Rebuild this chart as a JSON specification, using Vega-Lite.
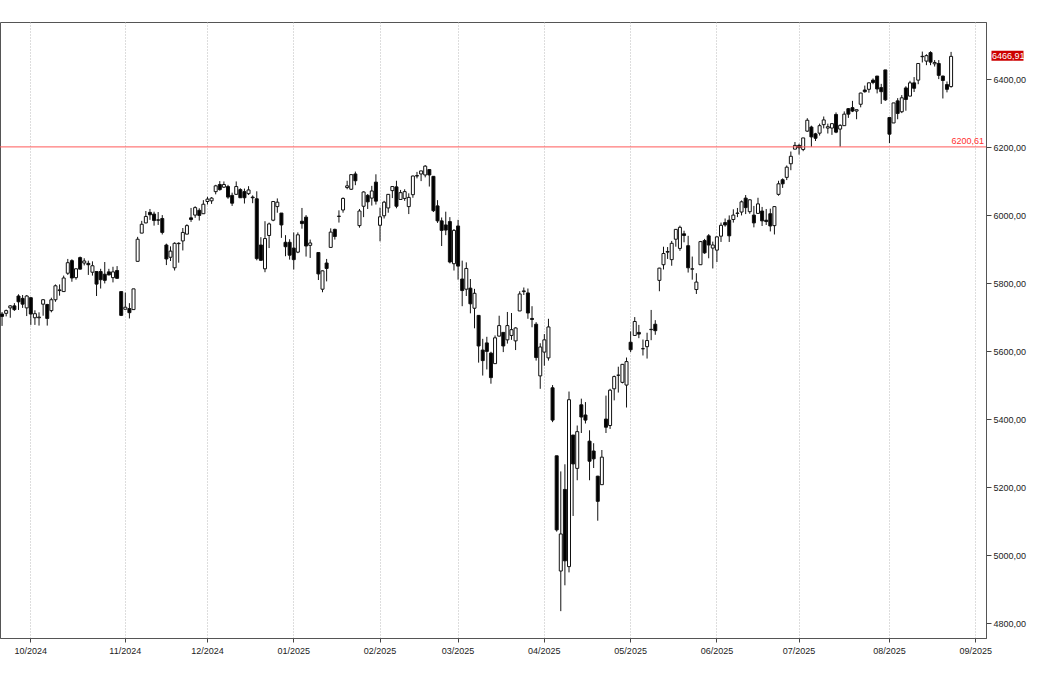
{
  "$schema": "https://vega.github.io/schema/vega-lite/v6.json",
  "width": 986,
  "height": 616,
  "autosize": "none",
  "padding": {"left": 0, "top": 22, "right": 61, "bottom": 47},
  "background": "#ffffff",
  "config": {
    "view": {"stroke": "#555555", "strokeWidth": 1},
    "font": "Liberation Sans"
  },
  "datasets": {
    "p": [
      {"d":"2024-09-20","o":5709,"h":5715,"l":5674,"c":5702},
      {"d":"2024-09-23","o":5711,"h":5722,"l":5702,"c":5719},
      {"d":"2024-09-24","o":5727,"h":5735,"l":5698,"c":5733},
      {"d":"2024-09-25","o":5733,"h":5741,"l":5718,"c":5722},
      {"d":"2024-09-26","o":5762,"h":5767,"l":5721,"c":5745},
      {"d":"2024-09-27","o":5755,"h":5765,"l":5727,"c":5738},
      {"d":"2024-09-30","o":5727,"h":5765,"l":5703,"c":5762},
      {"d":"2024-10-01","o":5757,"h":5758,"l":5677,"c":5709},
      {"d":"2024-10-02","o":5698,"h":5720,"l":5677,"c":5710},
      {"d":"2024-10-03","o":5698,"h":5714,"l":5675,"c":5700},
      {"d":"2024-10-04","o":5738,"h":5753,"l":5704,"c":5751},
      {"d":"2024-10-07","o":5737,"h":5739,"l":5675,"c":5696},
      {"d":"2024-10-08","o":5719,"h":5757,"l":5714,"c":5751},
      {"d":"2024-10-09","o":5751,"h":5796,"l":5745,"c":5792},
      {"d":"2024-10-10","o":5778,"h":5796,"l":5763,"c":5780},
      {"d":"2024-10-11","o":5775,"h":5822,"l":5775,"c":5815},
      {"d":"2024-10-14","o":5829,"h":5871,"l":5824,"c":5860},
      {"d":"2024-10-15","o":5866,"h":5870,"l":5804,"c":5815},
      {"d":"2024-10-16","o":5816,"h":5843,"l":5810,"c":5842},
      {"d":"2024-10-17","o":5875,"h":5878,"l":5840,"c":5841},
      {"d":"2024-10-18","o":5859,"h":5873,"l":5852,"c":5865},
      {"d":"2024-10-21","o":5858,"h":5866,"l":5824,"c":5854},
      {"d":"2024-10-22","o":5832,"h":5864,"l":5822,"c":5851},
      {"d":"2024-10-23","o":5834,"h":5835,"l":5762,"c":5797},
      {"d":"2024-10-24","o":5834,"h":5842,"l":5784,"c":5810},
      {"d":"2024-10-25","o":5826,"h":5862,"l":5799,"c":5808},
      {"d":"2024-10-28","o":5833,"h":5842,"l":5823,"c":5824},
      {"d":"2024-10-29","o":5816,"h":5848,"l":5802,"c":5833},
      {"d":"2024-10-30","o":5837,"h":5850,"l":5813,"c":5814},
      {"d":"2024-10-31","o":5775,"h":5775,"l":5703,"c":5705},
      {"d":"2024-11-01","o":5723,"h":5772,"l":5723,"c":5729},
      {"d":"2024-11-04","o":5725,"h":5741,"l":5696,"c":5713},
      {"d":"2024-11-05","o":5722,"h":5783,"l":5722,"c":5783},
      {"d":"2024-11-06","o":5864,"h":5936,"l":5864,"c":5929},
      {"d":"2024-11-07","o":5947,"h":5983,"l":5947,"c":5973},
      {"d":"2024-11-08","o":5977,"h":6012,"l":5976,"c":5996},
      {"d":"2024-11-11","o":6008,"h":6018,"l":5986,"c":6001},
      {"d":"2024-11-12","o":6003,"h":6010,"l":5969,"c":5984},
      {"d":"2024-11-13","o":5986,"h":6009,"l":5971,"c":5985},
      {"d":"2024-11-14","o":5990,"h":6000,"l":5943,"c":5949},
      {"d":"2024-11-15","o":5912,"h":5916,"l":5853,"c":5871},
      {"d":"2024-11-18","o":5876,"h":5908,"l":5865,"c":5894},
      {"d":"2024-11-19","o":5845,"h":5920,"l":5837,"c":5917},
      {"d":"2024-11-20","o":5916,"h":5920,"l":5860,"c":5917},
      {"d":"2024-11-21","o":5924,"h":5962,"l":5896,"c":5949},
      {"d":"2024-11-22","o":5944,"h":5973,"l":5944,"c":5969},
      {"d":"2024-11-25","o":5992,"h":6021,"l":5980,"c":5987},
      {"d":"2024-11-26","o":6000,"h":6026,"l":5992,"c":6022},
      {"d":"2024-11-27","o":6014,"h":6020,"l":5984,"c":5999},
      {"d":"2024-11-29","o":6004,"h":6044,"l":6004,"c":6032},
      {"d":"2024-12-02","o":6040,"h":6054,"l":6031,"c":6047},
      {"d":"2024-12-03","o":6042,"h":6053,"l":6033,"c":6050},
      {"d":"2024-12-04","o":6069,"h":6089,"l":6061,"c":6086},
      {"d":"2024-12-05","o":6090,"h":6100,"l":6072,"c":6075},
      {"d":"2024-12-06","o":6082,"h":6099,"l":6080,"c":6090},
      {"d":"2024-12-09","o":6084,"h":6089,"l":6048,"c":6053},
      {"d":"2024-12-10","o":6058,"h":6066,"l":6027,"c":6035},
      {"d":"2024-12-11","o":6061,"h":6099,"l":6060,"c":6084},
      {"d":"2024-12-12","o":6075,"h":6079,"l":6051,"c":6051},
      {"d":"2024-12-13","o":6069,"h":6078,"l":6034,"c":6051},
      {"d":"2024-12-16","o":6063,"h":6085,"l":6059,"c":6074},
      {"d":"2024-12-17","o":6053,"h":6058,"l":6035,"c":6051},
      {"d":"2024-12-18","o":6048,"h":6070,"l":5867,"c":5872},
      {"d":"2024-12-19","o":5912,"h":5935,"l":5866,"c":5867},
      {"d":"2024-12-20","o":5842,"h":5982,"l":5832,"c":5931},
      {"d":"2024-12-23","o":5940,"h":5978,"l":5903,"c":5974},
      {"d":"2024-12-24","o":5985,"h":6041,"l":5982,"c":6040},
      {"d":"2024-12-26","o":6025,"h":6049,"l":6007,"c":6038},
      {"d":"2024-12-27","o":6006,"h":6006,"l":5933,"c":5971},
      {"d":"2024-12-30","o":5920,"h":5941,"l":5879,"c":5907},
      {"d":"2024-12-31","o":5920,"h":5929,"l":5869,"c":5882},
      {"d":"2025-01-02","o":5903,"h":5949,"l":5840,"c":5869},
      {"d":"2025-01-03","o":5891,"h":5949,"l":5888,"c":5942},
      {"d":"2025-01-06","o":5982,"h":6021,"l":5960,"c":5975},
      {"d":"2025-01-07","o":5994,"h":6000,"l":5878,"c":5909},
      {"d":"2025-01-08","o":5911,"h":5928,"l":5874,"c":5918},
      {"d":"2025-01-10","o":5890,"h":5890,"l":5809,"c":5827},
      {"d":"2025-01-13","o":5782,"h":5837,"l":5773,"c":5836},
      {"d":"2025-01-14","o":5859,"h":5871,"l":5805,"c":5843},
      {"d":"2025-01-15","o":5905,"h":5961,"l":5905,"c":5950},
      {"d":"2025-01-16","o":5958,"h":5960,"l":5928,"c":5937},
      {"d":"2025-01-17","o":5996,"h":6014,"l":5978,"c":5997},
      {"d":"2025-01-21","o":6015,"h":6052,"l":6007,"c":6049},
      {"d":"2025-01-22","o":6081,"h":6101,"l":6076,"c":6086},
      {"d":"2025-01-23","o":6076,"h":6119,"l":6074,"c":6119},
      {"d":"2025-01-24","o":6121,"h":6128,"l":6088,"c":6101},
      {"d":"2025-01-27","o":5969,"h":6018,"l":5963,"c":6012},
      {"d":"2025-01-28","o":6026,"h":6070,"l":5994,"c":6068},
      {"d":"2025-01-29","o":6058,"h":6062,"l":6018,"c":6039},
      {"d":"2025-01-30","o":6050,"h":6086,"l":6028,"c":6071},
      {"d":"2025-01-31","o":6097,"h":6120,"l":6031,"c":6041},
      {"d":"2025-02-03","o":5970,"h":6022,"l":5923,"c":5995},
      {"d":"2025-02-04","o":5998,"h":6042,"l":5990,"c":6038},
      {"d":"2025-02-05","o":6021,"h":6062,"l":6007,"c":6061},
      {"d":"2025-02-06","o":6072,"h":6084,"l":6050,"c":6084},
      {"d":"2025-02-07","o":6083,"h":6101,"l":6020,"c":6026},
      {"d":"2025-02-10","o":6046,"h":6074,"l":6046,"c":6066},
      {"d":"2025-02-11","o":6049,"h":6076,"l":6042,"c":6069},
      {"d":"2025-02-12","o":6025,"h":6064,"l":6003,"c":6052},
      {"d":"2025-02-13","o":6060,"h":6116,"l":6051,"c":6115},
      {"d":"2025-02-14","o":6116,"h":6127,"l":6108,"c":6115},
      {"d":"2025-02-18","o":6121,"h":6130,"l":6100,"c":6130},
      {"d":"2025-02-19","o":6118,"h":6147,"l":6111,"c":6144},
      {"d":"2025-02-20","o":6134,"h":6135,"l":6084,"c":6118},
      {"d":"2025-02-21","o":6114,"h":6115,"l":6009,"c":6013},
      {"d":"2025-02-24","o":6027,"h":6044,"l":5977,"c":5983},
      {"d":"2025-02-25","o":5983,"h":5993,"l":5909,"c":5955},
      {"d":"2025-02-26","o":5971,"h":6010,"l":5941,"c":5956},
      {"d":"2025-02-27","o":5981,"h":5994,"l":5858,"c":5862},
      {"d":"2025-02-28","o":5857,"h":5959,"l":5837,"c":5955},
      {"d":"2025-03-03","o":5968,"h":5986,"l":5810,"c":5850},
      {"d":"2025-03-04","o":5812,"h":5866,"l":5732,"c":5778},
      {"d":"2025-03-05","o":5782,"h":5861,"l":5762,"c":5843},
      {"d":"2025-03-06","o":5785,"h":5812,"l":5711,"c":5739},
      {"d":"2025-03-07","o":5726,"h":5783,"l":5667,"c":5770},
      {"d":"2025-03-10","o":5705,"h":5706,"l":5566,"c":5615},
      {"d":"2025-03-11","o":5603,"h":5636,"l":5528,"c":5572},
      {"d":"2025-03-12","o":5624,"h":5642,"l":5546,"c":5599},
      {"d":"2025-03-13","o":5594,"h":5598,"l":5504,"c":5522},
      {"d":"2025-03-14","o":5563,"h":5646,"l":5563,"c":5639},
      {"d":"2025-03-17","o":5644,"h":5704,"l":5643,"c":5675},
      {"d":"2025-03-18","o":5655,"h":5655,"l":5597,"c":5615},
      {"d":"2025-03-19","o":5633,"h":5715,"l":5622,"c":5675},
      {"d":"2025-03-20","o":5646,"h":5712,"l":5633,"c":5663},
      {"d":"2025-03-21","o":5630,"h":5670,"l":5603,"c":5668},
      {"d":"2025-03-24","o":5718,"h":5776,"l":5718,"c":5768},
      {"d":"2025-03-25","o":5775,"h":5787,"l":5765,"c":5777},
      {"d":"2025-03-26","o":5771,"h":5784,"l":5695,"c":5712},
      {"d":"2025-03-27","o":5696,"h":5732,"l":5670,"c":5693},
      {"d":"2025-03-28","o":5679,"h":5685,"l":5572,"c":5581},
      {"d":"2025-03-31","o":5527,"h":5623,"l":5489,"c":5612},
      {"d":"2025-04-01","o":5597,"h":5650,"l":5557,"c":5633},
      {"d":"2025-04-02","o":5580,"h":5695,"l":5572,"c":5671},
      {"d":"2025-04-03","o":5492,"h":5500,"l":5391,"c":5397},
      {"d":"2025-04-04","o":5292,"h":5292,"l":5069,"c":5074},
      {"d":"2025-04-07","o":4953,"h":5246,"l":4835,"c":5062},
      {"d":"2025-04-08","o":5193,"h":5267,"l":4911,"c":4983},
      {"d":"2025-04-09","o":4966,"h":5481,"l":4949,"c":5457},
      {"d":"2025-04-10","o":5353,"h":5353,"l":5115,"c":5268},
      {"d":"2025-04-11","o":5255,"h":5381,"l":5220,"c":5363},
      {"d":"2025-04-14","o":5442,"h":5460,"l":5359,"c":5406},
      {"d":"2025-04-15","o":5412,"h":5450,"l":5387,"c":5397},
      {"d":"2025-04-16","o":5335,"h":5367,"l":5220,"c":5276},
      {"d":"2025-04-17","o":5306,"h":5329,"l":5256,"c":5283},
      {"d":"2025-04-21","o":5232,"h":5233,"l":5101,"c":5158},
      {"d":"2025-04-22","o":5207,"h":5309,"l":5207,"c":5288},
      {"d":"2025-04-23","o":5400,"h":5469,"l":5359,"c":5376},
      {"d":"2025-04-24","o":5381,"h":5489,"l":5371,"c":5485},
      {"d":"2025-04-25","o":5489,"h":5528,"l":5455,"c":5525},
      {"d":"2025-04-28","o":5529,"h":5554,"l":5478,"c":5529},
      {"d":"2025-04-29","o":5508,"h":5562,"l":5505,"c":5561},
      {"d":"2025-04-30","o":5500,"h":5581,"l":5434,"c":5569},
      {"d":"2025-05-01","o":5626,"h":5658,"l":5597,"c":5604},
      {"d":"2025-05-02","o":5646,"h":5700,"l":5646,"c":5687},
      {"d":"2025-05-05","o":5655,"h":5677,"l":5638,"c":5650},
      {"d":"2025-05-06","o":5607,"h":5634,"l":5587,"c":5607},
      {"d":"2025-05-07","o":5613,"h":5654,"l":5578,"c":5631},
      {"d":"2025-05-08","o":5663,"h":5721,"l":5632,"c":5664},
      {"d":"2025-05-09","o":5679,"h":5691,"l":5648,"c":5660},
      {"d":"2025-05-12","o":5808,"h":5845,"l":5776,"c":5844},
      {"d":"2025-05-13","o":5854,"h":5907,"l":5840,"c":5887},
      {"d":"2025-05-14","o":5891,"h":5906,"l":5871,"c":5893},
      {"d":"2025-05-15","o":5869,"h":5924,"l":5851,"c":5917},
      {"d":"2025-05-16","o":5929,"h":5959,"l":5907,"c":5958},
      {"d":"2025-05-19","o":5902,"h":5969,"l":5895,"c":5964},
      {"d":"2025-05-20","o":5945,"h":5954,"l":5920,"c":5940},
      {"d":"2025-05-21","o":5910,"h":5939,"l":5831,"c":5845},
      {"d":"2025-05-22","o":5841,"h":5878,"l":5810,"c":5842},
      {"d":"2025-05-23","o":5781,"h":5829,"l":5768,"c":5803},
      {"d":"2025-05-27","o":5854,"h":5924,"l":5854,"c":5922},
      {"d":"2025-05-28","o":5925,"h":5930,"l":5886,"c":5889},
      {"d":"2025-05-29","o":5939,"h":5944,"l":5873,"c":5912},
      {"d":"2025-05-30","o":5903,"h":5922,"l":5843,"c":5912},
      {"d":"2025-06-02","o":5897,"h":5937,"l":5862,"c":5936},
      {"d":"2025-06-03","o":5938,"h":5978,"l":5921,"c":5970},
      {"d":"2025-06-04","o":5978,"h":5990,"l":5966,"c":5971},
      {"d":"2025-06-05","o":5985,"h":5999,"l":5921,"c":5939},
      {"d":"2025-06-06","o":5987,"h":6017,"l":5978,"c":6000},
      {"d":"2025-06-09","o":6005,"h":6021,"l":5994,"c":6006},
      {"d":"2025-06-10","o":6009,"h":6043,"l":5999,"c":6039},
      {"d":"2025-06-11","o":6050,"h":6059,"l":6003,"c":6022},
      {"d":"2025-06-12","o":6010,"h":6046,"l":6004,"c":6045},
      {"d":"2025-06-13","o":6000,"h":6027,"l":5964,"c":5977},
      {"d":"2025-06-16","o":6005,"h":6051,"l":6005,"c":6033},
      {"d":"2025-06-17","o":6012,"h":6024,"l":5968,"c":5983},
      {"d":"2025-06-18","o":5985,"h":6018,"l":5971,"c":5981},
      {"d":"2025-06-20","o":6004,"h":6019,"l":5952,"c":5968},
      {"d":"2025-06-23","o":5969,"h":6026,"l":5943,"c":6025},
      {"d":"2025-06-24","o":6061,"h":6101,"l":6057,"c":6092},
      {"d":"2025-06-25","o":6104,"h":6108,"l":6080,"c":6092},
      {"d":"2025-06-26","o":6111,"h":6146,"l":6103,"c":6141},
      {"d":"2025-06-27","o":6151,"h":6187,"l":6132,"c":6173},
      {"d":"2025-06-30","o":6194,"h":6215,"l":6194,"c":6205},
      {"d":"2025-07-01","o":6205,"h":6210,"l":6178,"c":6198},
      {"d":"2025-07-02","o":6193,"h":6227,"l":6188,"c":6227},
      {"d":"2025-07-03","o":6247,"h":6285,"l":6245,"c":6279},
      {"d":"2025-07-07","o":6259,"h":6263,"l":6201,"c":6230},
      {"d":"2025-07-08","o":6239,"h":6242,"l":6218,"c":6226},
      {"d":"2025-07-09","o":6241,"h":6269,"l":6234,"c":6263},
      {"d":"2025-07-10","o":6266,"h":6290,"l":6255,"c":6280},
      {"d":"2025-07-11","o":6256,"h":6269,"l":6240,"c":6260},
      {"d":"2025-07-14","o":6256,"h":6270,"l":6236,"c":6269},
      {"d":"2025-07-15","o":6296,"h":6302,"l":6241,"c":6244},
      {"d":"2025-07-16","o":6253,"h":6267,"l":6201,"c":6264},
      {"d":"2025-07-17","o":6263,"h":6305,"l":6263,"c":6297},
      {"d":"2025-07-18","o":6313,"h":6315,"l":6286,"c":6297},
      {"d":"2025-07-21","o":6316,"h":6336,"l":6303,"c":6306},
      {"d":"2025-07-22","o":6306,"h":6310,"l":6282,"c":6310},
      {"d":"2025-07-23","o":6326,"h":6360,"l":6317,"c":6359},
      {"d":"2025-07-24","o":6368,"h":6381,"l":6360,"c":6363},
      {"d":"2025-07-25","o":6370,"h":6390,"l":6360,"c":6389},
      {"d":"2025-07-28","o":6397,"h":6402,"l":6385,"c":6390},
      {"d":"2025-07-29","o":6409,"h":6409,"l":6358,"c":6371},
      {"d":"2025-07-30","o":6375,"h":6386,"l":6327,"c":6363},
      {"d":"2025-07-31","o":6427,"h":6427,"l":6336,"c":6339},
      {"d":"2025-08-01","o":6287,"h":6288,"l":6212,"c":6238},
      {"d":"2025-08-04","o":6271,"h":6330,"l":6271,"c":6330},
      {"d":"2025-08-05","o":6336,"h":6344,"l":6282,"c":6299},
      {"d":"2025-08-06","o":6304,"h":6353,"l":6300,"c":6345},
      {"d":"2025-08-07","o":6374,"h":6379,"l":6307,"c":6340},
      {"d":"2025-08-08","o":6350,"h":6395,"l":6350,"c":6389},
      {"d":"2025-08-11","o":6389,"h":6406,"l":6362,"c":6373},
      {"d":"2025-08-12","o":6397,"h":6446,"l":6385,"c":6446},
      {"d":"2025-08-13","o":6466,"h":6481,"l":6449,"c":6467},
      {"d":"2025-08-14","o":6453,"h":6473,"l":6441,"c":6469},
      {"d":"2025-08-15","o":6478,"h":6482,"l":6441,"c":6450},
      {"d":"2025-08-18","o":6445,"h":6456,"l":6437,"c":6449},
      {"d":"2025-08-19","o":6446,"h":6456,"l":6400,"c":6411},
      {"d":"2025-08-20","o":6409,"h":6410,"l":6343,"c":6396},
      {"d":"2025-08-21","o":6384,"h":6393,"l":6361,"c":6370},
      {"d":"2025-08-22","o":6378,"h":6480,"l":6375,"c":6466.91}
    ],
    "level": [{"v": 6200.61, "t": "6200,61", "d": "2025-09-04"}],
    "last": [{"d": "2025-08-22", "c": 6466.91, "t": "6466,91"}]
  },
  "layer": [
    {
      "data": {"name": "p"},
      "mark": {"type": "rule", "color": "#111111", "strokeWidth": 1},
      "encoding": {
        "x": {
          "field": "d",
          "type": "ordinal",
          "sort": null,
          "scale": {
            "type": "band",
            "paddingInner": 0,
            "paddingOuter": 0,
            "domain": [
              "2024-09-20","2024-09-23","2024-09-24","2024-09-25","2024-09-26","2024-09-27","2024-09-30",
              "2024-10-01","2024-10-02","2024-10-03","2024-10-04","2024-10-07","2024-10-08","2024-10-09","2024-10-10","2024-10-11","2024-10-14","2024-10-15","2024-10-16","2024-10-17","2024-10-18","2024-10-21","2024-10-22","2024-10-23","2024-10-24","2024-10-25","2024-10-28","2024-10-29","2024-10-30","2024-10-31",
              "2024-11-01","2024-11-04","2024-11-05","2024-11-06","2024-11-07","2024-11-08","2024-11-11","2024-11-12","2024-11-13","2024-11-14","2024-11-15","2024-11-18","2024-11-19","2024-11-20","2024-11-21","2024-11-22","2024-11-25","2024-11-26","2024-11-27","2024-11-29",
              "2024-12-02","2024-12-03","2024-12-04","2024-12-05","2024-12-06","2024-12-09","2024-12-10","2024-12-11","2024-12-12","2024-12-13","2024-12-16","2024-12-17","2024-12-18","2024-12-19","2024-12-20","2024-12-23","2024-12-24","2024-12-26","2024-12-27","2024-12-30","2024-12-31",
              "2025-01-02","2025-01-03","2025-01-06","2025-01-07","2025-01-08","2025-01-09","2025-01-10","2025-01-13","2025-01-14","2025-01-15","2025-01-16","2025-01-17","2025-01-21","2025-01-22","2025-01-23","2025-01-24","2025-01-27","2025-01-28","2025-01-29","2025-01-30","2025-01-31",
              "2025-02-03","2025-02-04","2025-02-05","2025-02-06","2025-02-07","2025-02-10","2025-02-11","2025-02-12","2025-02-13","2025-02-14","2025-02-18","2025-02-19","2025-02-20","2025-02-21","2025-02-24","2025-02-25","2025-02-26","2025-02-27","2025-02-28",
              "2025-03-03","2025-03-04","2025-03-05","2025-03-06","2025-03-07","2025-03-10","2025-03-11","2025-03-12","2025-03-13","2025-03-14","2025-03-17","2025-03-18","2025-03-19","2025-03-20","2025-03-21","2025-03-24","2025-03-25","2025-03-26","2025-03-27","2025-03-28","2025-03-31",
              "2025-04-01","2025-04-02","2025-04-03","2025-04-04","2025-04-07","2025-04-08","2025-04-09","2025-04-10","2025-04-11","2025-04-14","2025-04-15","2025-04-16","2025-04-17","2025-04-21","2025-04-22","2025-04-23","2025-04-24","2025-04-25","2025-04-28","2025-04-29","2025-04-30",
              "2025-05-01","2025-05-02","2025-05-05","2025-05-06","2025-05-07","2025-05-08","2025-05-09","2025-05-12","2025-05-13","2025-05-14","2025-05-15","2025-05-16","2025-05-19","2025-05-20","2025-05-21","2025-05-22","2025-05-23","2025-05-27","2025-05-28","2025-05-29","2025-05-30",
              "2025-06-02","2025-06-03","2025-06-04","2025-06-05","2025-06-06","2025-06-09","2025-06-10","2025-06-11","2025-06-12","2025-06-13","2025-06-16","2025-06-17","2025-06-18","2025-06-20","2025-06-23","2025-06-24","2025-06-25","2025-06-26","2025-06-27","2025-06-30",
              "2025-07-01","2025-07-02","2025-07-03","2025-07-07","2025-07-08","2025-07-09","2025-07-10","2025-07-11","2025-07-14","2025-07-15","2025-07-16","2025-07-17","2025-07-18","2025-07-21","2025-07-22","2025-07-23","2025-07-24","2025-07-25","2025-07-28","2025-07-29","2025-07-30","2025-07-31",
              "2025-08-01","2025-08-04","2025-08-05","2025-08-06","2025-08-07","2025-08-08","2025-08-11","2025-08-12","2025-08-13","2025-08-14","2025-08-15","2025-08-18","2025-08-19","2025-08-20","2025-08-21","2025-08-22","2025-08-25","2025-08-26","2025-08-27","2025-08-28","2025-08-29",
              "2025-09-02","2025-09-03","2025-09-04"
            ]
          },
          "axis": {
            "orient": "bottom",
            "title": null,
            "values": ["2024-10-01","2024-11-01","2024-12-02","2025-01-02","2025-02-03","2025-03-03","2025-04-01","2025-05-01","2025-06-02","2025-07-01","2025-08-01","2025-09-02"],
            "labelExpr": "substring(datum.value, 5, 7) + '/' + substring(datum.value, 0, 4)",
            "labelAngle": 0,
            "labelFont": "Liberation Sans",
            "labelFontSize": 9,
            "labelColor": "#222222",
            "labelPadding": 4,
            "labelOverlap": false,
            "labelFlush": false,
            "bandPosition": 0.5,
            "tickBand": "center",
            "tickSize": 4,
            "tickColor": "#444444",
            "domainColor": "#555555",
            "grid": true,
            "gridColor": "#bbbbbb",
            "gridDash": [1, 2],
            "gridWidth": 1
          }
        },
        "y": {
          "field": "l",
          "type": "quantitative",
          "scale": {"domain": [4756, 6568], "nice": false, "zero": false},
          "axis": {
            "orient": "right",
            "title": null,
            "values": [4800, 4900, 5000, 5100, 5200, 5300, 5400, 5500, 5600, 5700, 5800, 5900, 6000, 6100, 6200, 6300, 6400, 6500],
            "labelExpr": "datum.value % 200 == 0 ? replace(format(datum.value, '.2f'), '.', ',') : ''",
            "labelFont": "Liberation Sans",
            "labelFontSize": 9,
            "labelColor": "#222222",
            "labelPadding": 2,
            "labelOverlap": false,
            "tickSize": 5,
            "tickColor": "#444444",
            "domainColor": "#555555",
            "grid": false
          }
        },
        "y2": {"field": "h"}
      }
    },
    {
      "data": {"name": "p"},
      "mark": {"type": "bar", "size": 3, "stroke": "#111111", "strokeWidth": 1},
      "encoding": {
        "x": {"field": "d", "type": "ordinal", "sort": null},
        "y": {"field": "o", "type": "quantitative"},
        "y2": {"field": "c"},
        "fill": {"condition": {"test": "datum.c >= datum.o", "value": "#ffffff"}, "value": "#000000"}
      }
    },
    {
      "data": {"name": "level"},
      "mark": {"type": "rule", "color": "#ff5a5a", "strokeWidth": 1},
      "encoding": {"y": {"field": "v", "type": "quantitative"}}
    },
    {
      "data": {"name": "level"},
      "mark": {"type": "text", "align": "right", "baseline": "bottom", "dy": -0.5, "color": "#ff3030", "font": "Liberation Sans", "fontSize": 9},
      "encoding": {
        "x": {"field": "d", "type": "ordinal", "sort": null},
        "y": {"field": "v", "type": "quantitative"},
        "text": {"field": "t"}
      }
    },
    {
      "data": {"name": "last"},
      "mark": {"type": "point", "filled": true, "clip": false, "color": "#cc0000", "opacity": 1, "strokeWidth": 0, "size": 400, "shape": "M 4.04 -0.55 L 7.24 -0.55 L 7.24 0.45 L 4.04 0.45 Z"},
      "encoding": {
        "x": {"field": "d", "type": "ordinal", "sort": null},
        "y": {"field": "c", "type": "quantitative"}
      }
    },
    {
      "data": {"name": "last"},
      "mark": {"type": "text", "align": "left", "baseline": "middle", "dx": 41, "dy": -0.5, "color": "#ffffff", "font": "Liberation Sans", "fontSize": 9},
      "encoding": {
        "x": {"field": "d", "type": "ordinal", "sort": null},
        "y": {"field": "c", "type": "quantitative"},
        "text": {"field": "t"}
      }
    }
  ]
}
